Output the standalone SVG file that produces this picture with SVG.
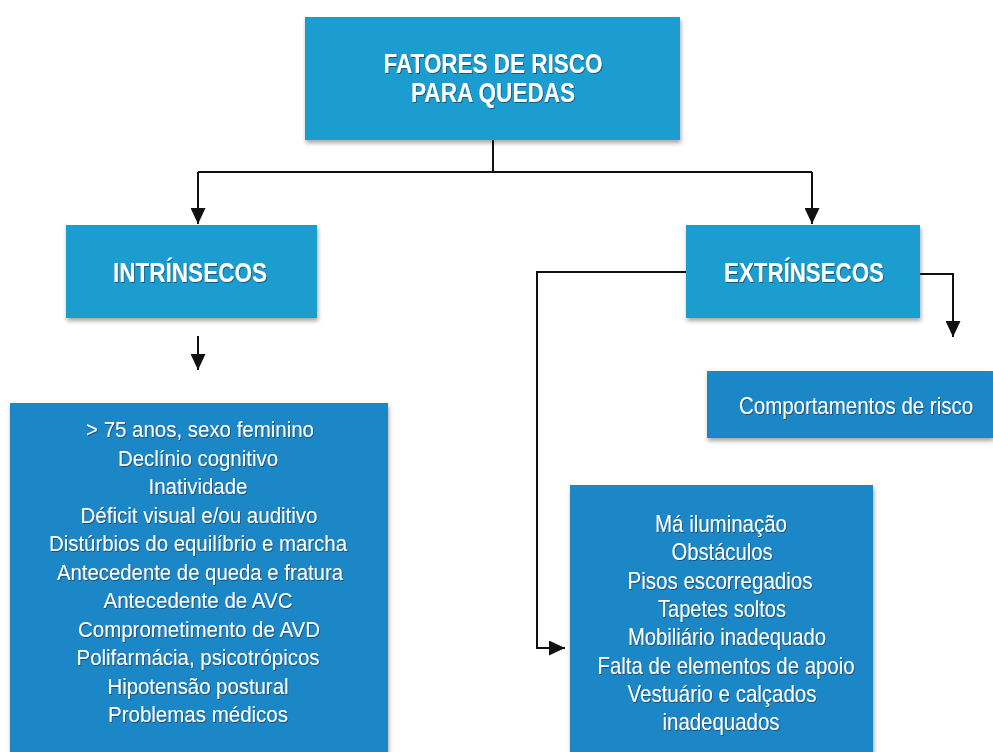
<svg xmlns="http://www.w3.org/2000/svg" width="993" height="752" viewBox="0 0 993 752">
<style>
.hdr{fill:#1e9dcf}
.lst{fill:#1b87c6}
.t{font-family:"Liberation Sans",Arial,sans-serif;fill:#ffffff;text-anchor:middle}
.b{font-weight:bold;font-size:27px}
.n{font-size:22.5px}
.m{font-size:24px}
.c{fill:none;stroke:#111;stroke-width:2}
</style>
<defs>
<filter id="sh" x="-10%" y="-10%" width="125%" height="130%">
<feDropShadow dx="1" dy="3" stdDeviation="2" flood-color="#000" flood-opacity="0.35"/>
</filter>
<filter id="ts" x="-5%" y="-20%" width="110%" height="150%">
<feDropShadow dx="0.8" dy="1" stdDeviation="0.7" flood-color="#0a3050" flood-opacity="0.65"/>
</filter>
<marker id="ah" viewBox="0 0 10 10" refX="10" refY="5" markerWidth="8" markerHeight="7.5" orient="auto" markerUnits="strokeWidth" preserveAspectRatio="none">
<path d="M0,0 L10,5 L0,10 z" fill="#111"/>
</marker>
</defs>
<rect width="993" height="752" fill="#ffffff"/>

<g id="connectors">
<path class="c" d="M493,140 V172"/>
<path class="c" d="M198,172 H812"/>
<path class="c" d="M198,172 V224" marker-end="url(#ah)"/>
<path class="c" d="M812,172 V224" marker-end="url(#ah)"/>
<path class="c" d="M198,336 V370" marker-end="url(#ah)"/>
<path class="c" d="M686,272 H537 V648 H565" marker-end="url(#ah)"/>
<path class="c" d="M920,274 H953 V337" marker-end="url(#ah)"/>
</g>

<g id="node-fatores">
<rect class="hdr" x="305" y="17" width="375" height="123" filter="url(#sh)"/>
<g filter="url(#ts)">
<text class="t b" x="493" y="73" textLength="219" lengthAdjust="spacingAndGlyphs">FATORES DE RISCO</text>
<text class="t b" x="493" y="102" textLength="164" lengthAdjust="spacingAndGlyphs">PARA QUEDAS</text>
</g>
</g>

<g id="node-intrinsecos">
<rect class="hdr" x="66" y="225" width="251" height="93" filter="url(#sh)"/>
<text class="t b" x="190" y="282" textLength="154" lengthAdjust="spacingAndGlyphs" filter="url(#ts)">INTRÍNSECOS</text>
</g>

<g id="node-extrinsecos">
<rect class="hdr" x="686" y="225" width="234" height="93" filter="url(#sh)"/>
<text class="t b" x="804" y="282" textLength="160" lengthAdjust="spacingAndGlyphs" filter="url(#ts)">EXTRÍNSECOS</text>
</g>

<g id="node-comportamentos">
<rect class="lst" x="707" y="371" width="286" height="67" filter="url(#sh)"/>
<text class="t m" x="856" y="414" textLength="234" lengthAdjust="spacingAndGlyphs" filter="url(#ts)">Comportamentos de risco</text>
</g>

<g id="node-intrinsecos-lista">
<rect class="lst" x="10" y="403" width="378" height="349" filter="url(#sh)"/>
<g filter="url(#ts)">
<text class="t n" x="200" y="437" textLength="228" lengthAdjust="spacingAndGlyphs">&gt; 75 anos, sexo feminino</text>
<text class="t n" x="198" y="465.5" textLength="160" lengthAdjust="spacingAndGlyphs">Declínio cognitivo</text>
<text class="t n" x="198" y="494" textLength="99" lengthAdjust="spacingAndGlyphs">Inatividade</text>
<text class="t n" x="199" y="522.5" textLength="237" lengthAdjust="spacingAndGlyphs">Déficit visual e/ou auditivo</text>
<text class="t n" x="198" y="551" textLength="298" lengthAdjust="spacingAndGlyphs">Distúrbios do equilíbrio e marcha</text>
<text class="t n" x="200" y="579.5" textLength="286" lengthAdjust="spacingAndGlyphs">Antecedente de queda e fratura</text>
<text class="t n" x="198" y="608" textLength="189" lengthAdjust="spacingAndGlyphs">Antecedente de AVC</text>
<text class="t n" x="199" y="636.5" textLength="242" lengthAdjust="spacingAndGlyphs">Comprometimento de AVD</text>
<text class="t n" x="198" y="665" textLength="243" lengthAdjust="spacingAndGlyphs">Polifarmácia, psicotrópicos</text>
<text class="t n" x="198" y="693.5" textLength="181" lengthAdjust="spacingAndGlyphs">Hipotensão postural</text>
<text class="t n" x="198" y="722" textLength="180" lengthAdjust="spacingAndGlyphs">Problemas médicos</text>
</g>
</g>

<g id="node-extrinsecos-lista">
<rect class="lst" x="570" y="485" width="303" height="267" filter="url(#sh)"/>
<g filter="url(#ts)">
<text class="t m" x="721" y="532" textLength="132" lengthAdjust="spacingAndGlyphs">Má iluminação</text>
<text class="t m" x="722" y="560.3" textLength="101" lengthAdjust="spacingAndGlyphs">Obstáculos</text>
<text class="t m" x="720" y="588.6" textLength="185" lengthAdjust="spacingAndGlyphs">Pisos escorregadios</text>
<text class="t m" x="722" y="616.9" textLength="128" lengthAdjust="spacingAndGlyphs">Tapetes soltos</text>
<text class="t m" x="727" y="645.2" textLength="198" lengthAdjust="spacingAndGlyphs">Mobiliário inadequado</text>
<text class="t m" x="726" y="673.5" textLength="257" lengthAdjust="spacingAndGlyphs">Falta de elementos de apoio</text>
<text class="t m" x="722" y="701.8" textLength="189" lengthAdjust="spacingAndGlyphs">Vestuário e calçados</text>
<text class="t m" x="721" y="730" textLength="117" lengthAdjust="spacingAndGlyphs">inadequados</text>
</g>
</g>
</svg>
